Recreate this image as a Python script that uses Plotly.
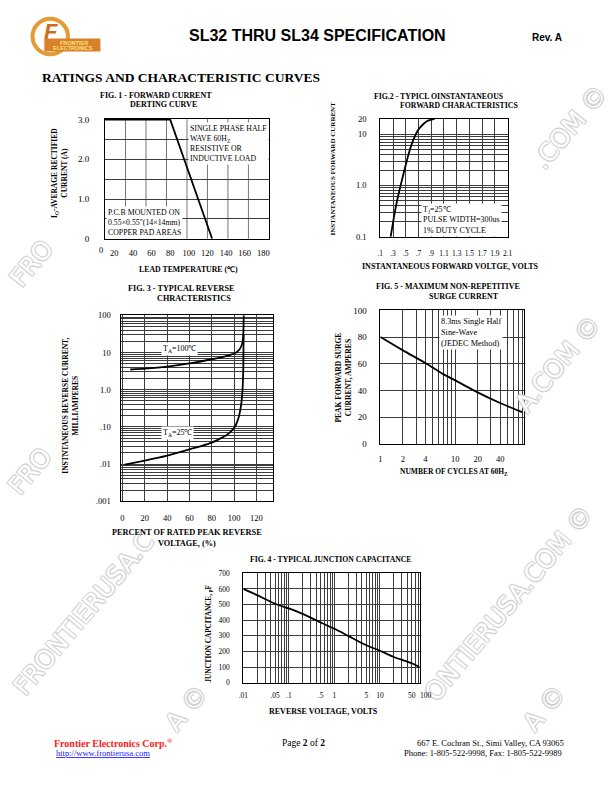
import plotly.graph_objects as go

W, H = 612, 792

# Fig. 1 - forward current derating curve
derate_temp = [10, 80, 125]
derate_amps = [3.0, 3.0, 0.0]
fig1_xticks = [20, 40, 60, 80, 100, 120, 140, 160, 180]
fig1_yticks = [0, 1, 2, 3]
fig1_ylabels = ["0", "1.0", "2.0", "3.0"]

# Fig. 2 - typical instantaneous forward characteristics
vf_volts = [0.263, 0.289, 0.324, 0.365, 0.406, 0.457, 0.503, 0.559, 0.620, 0.697, 0.773, 0.850, 0.952]
vf_amps = [0.1, 0.156, 0.282, 0.509, 0.855, 1.55, 2.6, 4.7, 7.85, 12.2, 15.7, 18.5, 20.0]
fig2_xticks = [0.1, 0.3, 0.5, 0.7, 0.9, 1.1, 1.3, 1.5, 1.7, 1.9, 2.1]
fig2_xlabels = [".1", ".3", ".5", ".7", ".9", "1.1", "1.3", "1.5", "1.7", "1.9", "2.1"]
fig2_yticks = [0.1, 1, 10, 20]
fig2_ylabels = ["0.1", "1.0", "10", "20"]

# Fig. 3 - typical reverse characteristics
ir100_pct = [7, 20, 40, 60, 80, 92, 100, 104, 106.5, 108, 108.6]
ir100_ma = [3.5, 3.7, 4.2, 5.1, 6.6, 7.9, 9.4, 11.5, 15, 25, 100]
ir25_pct = [2, 20, 40, 60, 80, 94, 100, 103.5, 106, 107.5, 108.2, 108.5]
ir25_ma = [0.0097, 0.0125, 0.017, 0.025, 0.038, 0.063, 0.095, 0.16, 0.35, 1.0, 4.0, 30]
fig3_xticks = [0, 20, 40, 60, 80, 100, 120]
fig3_yticks = [0.001, 0.01, 0.1, 1, 10, 100]
fig3_ylabels = [".001", ".01", ".10", "1.0", "10", "100"]

# Fig. 5 - maximum non-repetitive surge current
surge_cycles = [1, 2, 4, 7, 10, 20, 40, 80]
surge_amps = [80, 70, 60.5, 52, 47.5, 38.5, 30.5, 23.5]
fig5_xticks = [1, 2, 4, 10, 20, 40]
fig5_yticks = [0, 20, 40, 60, 80, 100]

# Fig. 4 - typical junction capacitance
cap_volts = [0.01, 0.02, 0.05, 0.1, 0.2, 0.5, 1, 2, 5, 10, 20, 50, 74]
cap_pf = [600, 560, 505, 475, 440, 385, 345, 300, 240, 205, 165, 125, 100]
fig4_xticks = [0.01, 0.05, 0.1, 0.5, 1, 5, 10, 50]
fig4_xlabels = [".01", ".05", ".1", ".5", "1", "5", "10", "50"]
fig4_yticks = [0, 100, 200, 300, 400, 500, 600, 700]

SERIF = "Liberation Serif, Times New Roman, serif"
SANS = "Liberation Sans Narrow, Liberation Sans, Arial, sans-serif"
GRID = "#3c3c3c"


def hdom(a, b):
    return [a / W, b / W]


def vdom(top, bottom):
    return [1 - bottom / H, 1 - top / H]


def log_lines(lo, hi):
    out = []
    for e in range(lo, hi):
        out += [k * 10.0 ** e for k in range(1, 10)]
    out.append(10.0 ** hi)
    return out


def axis(domain, anchor, rng, tickvals, ticktext=None, minor=None, kind="linear",
         size=8, standoff=10, grid=True):
    ax = dict(domain=domain, anchor=anchor, type=kind, range=rng,
              tickmode="array", tickvals=tickvals,
              ticktext=ticktext if ticktext else [str(v) for v in tickvals],
              ticks="", showgrid=grid, gridcolor=GRID, gridwidth=0.7,
              zeroline=False, showline=True, mirror=True,
              linecolor="black", linewidth=1,
              tickfont=dict(family=SERIF, size=size, color="black"),
              ticklabelstandoff=standoff, fixedrange=True)
    if minor:
        ax["minor"] = dict(tickmode="array", tickvals=minor, showgrid=True,
                           gridcolor=GRID, gridwidth=0.7, ticks="")
    return ax


annots = []


def note(x, y, text, size=7, bold=True, xanchor="center", yanchor="middle",
         angle=0, color="black", family=SERIF, bg=None, align="center", font_extra=None):
    font = dict(family=family, size=size, color=color)
    if font_extra:
        font.update(font_extra)
    a = dict(x=x / W, y=1 - y / H, xref="paper", yref="paper", showarrow=False,
             text=f"<b>{text}</b>" if bold else text, font=font,
             xanchor=xanchor, yanchor=yanchor, textangle=angle, align=align)
    if bg:
        a["bgcolor"] = bg
        a["borderpad"] = 1
    annots.append(a)


# faint outlined watermark fragments
wm = dict(shadow="-1px -1px 0 #d2d2d2, 1px -1px 0 #d2d2d2, -1px 1px 0 #d2d2d2, 1px 1px 0 #d2d2d2")
for wx, wy, wt in [(574, 124, ".COM ©"), (27, 262, "FRO"), (562, 364, "A.COM ©"),
                   (25, 472, "FRO"), (80, 616, "FRONTIERUSA.C"), (512, 606, "ONTIERUSA.COM ©"),
                   (184, 712, "A ©"), (548, 712, "A ©")]:
    note(wx, wy, wt, size=25, bold=False, angle=-50, color="white",
         family="DejaVu Sans, sans-serif", font_extra=wm)

fig = go.Figure()
line = dict(color="black", width=1.8)
fig.add_trace(go.Scatter(x=derate_temp, y=derate_amps, xaxis="x", yaxis="y",
                         mode="lines", line=line))
fig.add_trace(go.Scatter(x=vf_volts, y=vf_amps, xaxis="x2", yaxis="y2",
                         mode="lines", line=dict(line, shape="spline", smoothing=0.8)))
fig.add_trace(go.Scatter(x=ir100_pct, y=ir100_ma, xaxis="x3", yaxis="y3",
                         mode="lines", line=dict(line, shape="spline", smoothing=0.5)))
fig.add_trace(go.Scatter(x=ir25_pct, y=ir25_ma, xaxis="x3", yaxis="y3",
                         mode="lines", line=dict(line, shape="spline", smoothing=0.5)))
fig.add_trace(go.Scatter(x=surge_cycles, y=surge_amps, xaxis="x4", yaxis="y4",
                         mode="lines", line=dict(line, shape="spline", smoothing=0.8)))
fig.add_trace(go.Scatter(x=cap_volts, y=cap_pf, xaxis="x5", yaxis="y5",
                         mode="lines", line=dict(line, shape="spline", smoothing=0.8)))
fig.update_traces(hoverinfo="skip", showlegend=False)

layout = dict(
    # fig 1 (top held a hair above 3.0 so the flat 3 A run stays visible)
    xaxis=axis(hdom(101.7, 268.3), "y", [10, 186], fig1_xticks, grid=False,
               size=8.5, standoff=6),
    yaxis=axis(vdom(115.5, 236.7), "x", [0, 3.015], fig1_yticks, fig1_ylabels,
               minor=[0.5, 1.5, 2.5], size=9, standoff=13),
    # fig 2
    xaxis2=axis(hdom(381.5, 511), "y2", [0.1, 2.1], fig2_xticks, fig2_xlabels,
                size=7.5, standoff=9),
    yaxis2=axis(vdom(115.3, 234.7), "x2", [-1, 1.301], fig2_yticks, fig2_ylabels,
                minor=log_lines(-1, 1) + [20], kind="log", size=8.5, standoff=11),
    # fig 3
    xaxis3=axis(hdom(118.3, 272.7), "y3", [-1, 135], fig3_xticks, size=8.5, standoff=8),
    yaxis3=axis(vdom(314.3, 502.7), "x3", [-3, 2], fig3_yticks, fig3_ylabels,
                minor=log_lines(-3, 2), kind="log", size=8.5, standoff=8),
    # fig 5
    xaxis4=axis(hdom(381.7, 527.5), "y4", [0, 1.92], fig5_xticks,
                minor=log_lines(0, 1) + [30, 50, 60, 70, 80], kind="log",
                size=8.5, standoff=7),
    yaxis4=axis(vdom(309.3, 444.3), "x4", [0, 100], fig5_yticks, size=9, standoff=11),
    # fig 4
    xaxis5=axis(hdom(242.3, 421.5), "y5", [-2, 1.87], fig4_xticks, fig4_xlabels,
                minor=log_lines(-2, 1) + [20, 30, 40, 60, 70], kind="log",
                size=7.5, standoff=5),
    yaxis5=axis(vdom(575.5, 686.5), "x5", [0, 700], fig4_yticks, size=7.5, standoff=11),
)

shapes = []
# fig 1 vertical grid, eight equal divisions of the frame
for k in range(1, 8):
    shapes.append(dict(type="line", xref="x domain", yref="y domain", x0=k / 8, x1=k / 8,
                       y0=0, y1=1, line=dict(color=GRID, width=0.7), layer="below"))


def pbox(x0, y0, x1, y1, **kw):
    shapes.append(dict(xref="paper", yref="paper", x0=x0 / W, x1=x1 / W,
                       y0=1 - y0 / H, y1=1 - y1 / H, **kw))


# logo
pbox(28, 14, 64, 50, type="circle", line=dict(color="#e59b33", width=4))
pbox(40, 34, 97, 47, type="rect", fillcolor="#d8802a", line=dict(width=0))
note(47, 27, "<i>F</i>", size=22, color="#cf6d1c", family=SANS)
note(70, 38.5, "FRONTIER", size=5.5, color="#ffe27a", family=SANS)
note(69, 44, "ELECTRONICS", size=5.5, color="#ffe27a", family=SANS)

# header
note(318, 31, "SL32 THRU SL34 SPECIFICATION", size=16, family=SANS)
note(551, 33, "Rev. A", size=10, family=SANS)
note(36, 73, "RATINGS AND CHARACTERISTIC CURVES", size=13.5, xanchor="left")

# fig 1 texts
note(154, 92, "FIG. 1 - FORWARD CURRENT", size=8)
note(161, 101, "DERTING CURVE", size=8)
note(56, 170, "I<sub>O</sub>-AVERAGE RECTIFIED<br>CURRENT (A)", size=7.5, angle=-90)
note(187, 268, "LEAD TEMPERATURE (℃)", size=7.8)
note(97.7, 248.5, "0", size=8.5, bold=False)
note(186, 140, "SINGLE PHASE HALF<br>WAVE 60H<sub>Z</sub><br>RESISTIVE OR<br>INDUCTIVE LOAD",
     size=7.8, bold=False, xanchor="left", align="left", bg="white")
note(103, 220, "P.C.B MOUNTED ON<br>0.55×0.55\"(14×14mm)<br>COPPER PAD AREAS",
     size=7.8, bold=False, xanchor="left", align="left", bg="white")

# fig 2 texts
note(441, 93, "FIG.2 - TYPICL OINSTANTANEOUS", size=7.8)
note(462, 102, "FORWARD CHARACTERISTICS", size=7.8)
note(333, 166, "INSTANTANEOUS FORWARD CURRENT", size=7, angle=-90)
note(453, 265, "INSTANTANEOUS FORWARD VOLTGE, VOLTS", size=8)
note(423, 218, "T<sub>J</sub>=25℃<br>PULSE WIDTH=300us<br>1% DUTY CYCLE",
     size=8, bold=False, xanchor="left", align="left", bg="white")

# fig 3 texts
note(179, 287, "FIG. 3 - TYPICAL REVERSE", size=8.2)
note(192, 297, "CHRACTERISTICS", size=8.2)
note(67, 406, "INSTNTANEOUS REVERSE CURRENT,<br>MILLIAMPERES", size=7.5, angle=-90)
note(185, 540, "PERCENT OF RATED PEAK REVERSE<br>VOLTAGE, (%)", size=8.3)
note(159, 348, "T<sub>A</sub>=100℃", size=8, bold=False, xanchor="left", bg="white")
note(159, 433, "T<sub>A</sub>=25℃", size=8, bold=False, xanchor="left", bg="white")

# fig 5 texts
note(450, 285, "FIG. 5 - MAXIMUM NON-REPETITIVE", size=8)
note(467, 295, "SURGE CURRENT", size=8)
note(344, 377, "PEAK FORWARD SURGE<br>CURRENT, AMPERES", size=7.6, angle=-90)
note(456, 473, "NUMBER OF CYCLES AT 60H<sub>Z</sub>", size=7.5)
note(441, 332, "8.3ms Single Half<br>Sine-Wave<br>(JEDEC Method)",
     size=8.3, bold=False, xanchor="left", align="left", bg="white")

# fig 4 texts
note(331, 562, "FIG. 4 - TYPICAL JUNCTION CAPACITANCE", size=7.7)
note(208, 637, "JUNCTION CAPCITANCE, <sub>p</sub>F", size=7.2, angle=-90)
note(324, 716, "REVERSE VOLTAGE, VOLTS", size=8)
note(428, 699, "100", size=7.5, bold=False)

# footer
note(48, 747, "Frontier Electronics Corp.<sup>®</sup>", size=10, color="#ff1a1a", xanchor="left")
note(50, 758, "<u>http://www.frontierusa.com</u>", size=8.5, bold=False, color="#1a1aff", xanchor="left")
note(303, 747, "Page <b>2</b> of <b>2</b>", size=9.5, bold=False)
note(570, 747, "667 E. Cochran St., Simi Valley, CA 93065", size=8.5, bold=False, xanchor="right")
note(568, 758, "Phone: 1-805-522-9998, Fax: 1-805-522-9989", size=8.5, bold=False, xanchor="right")

fig.update_layout(width=W, height=H, margin=dict(l=0, r=0, t=0, b=0),
                  paper_bgcolor="white", plot_bgcolor="white", showlegend=False,
                  annotations=annots, shapes=shapes, **layout)

# the page is the whole figure: drop the browser's default body margin
fig.write_html("out.html", config={"displayModeBar": False},
               post_script="document.body.style.margin='0';document.body.style.overflow='hidden';")
